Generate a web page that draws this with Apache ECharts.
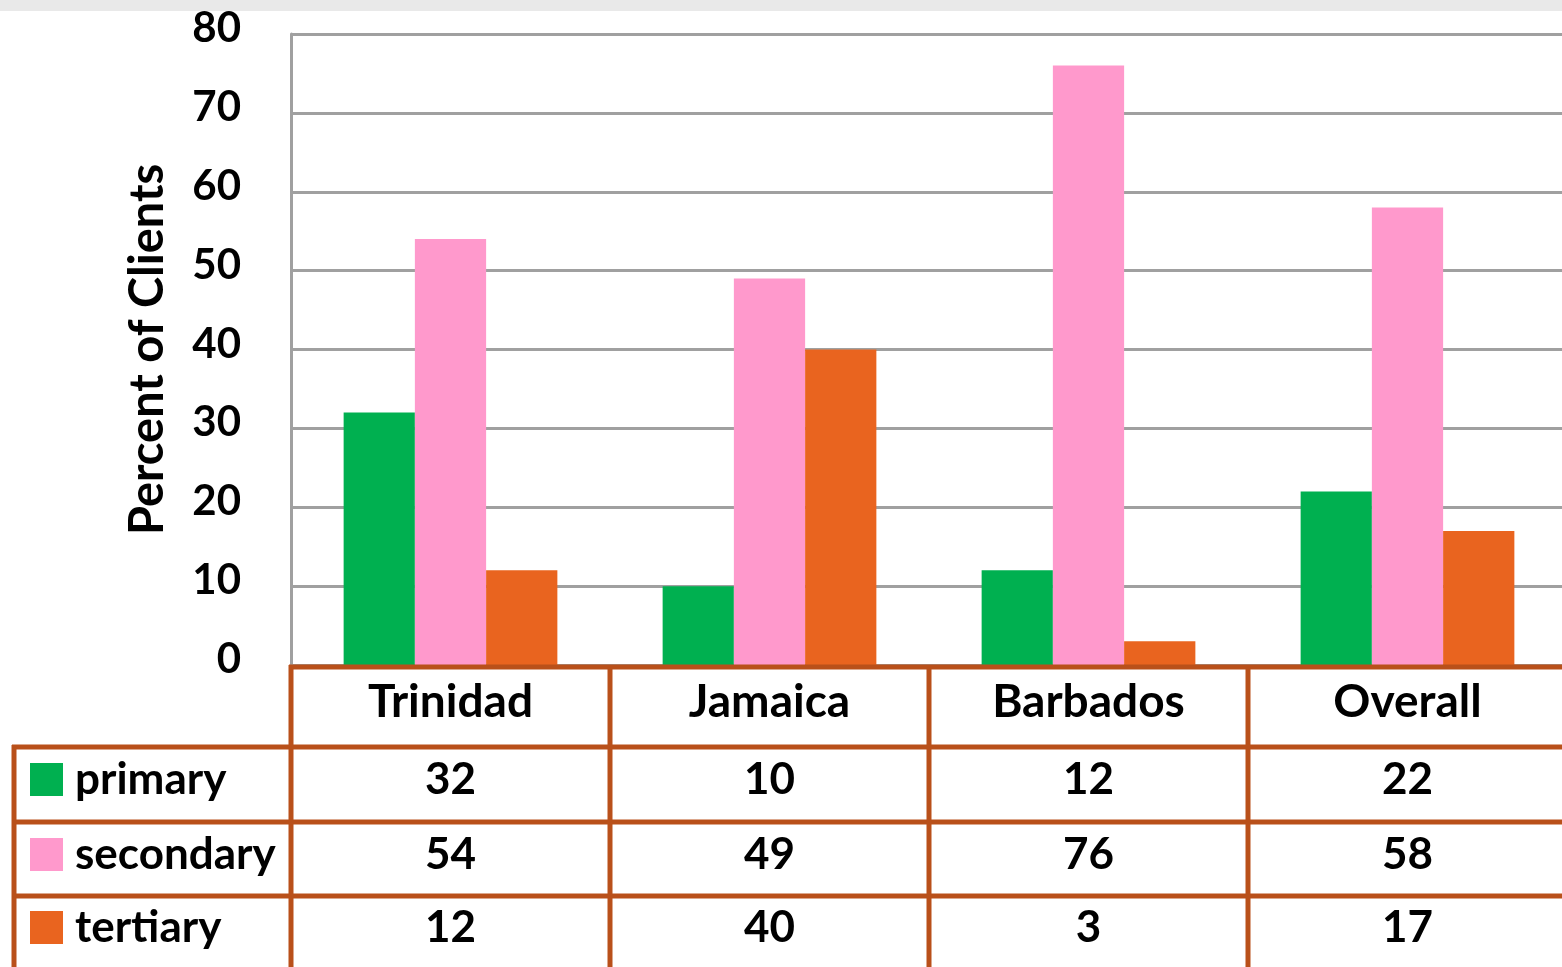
<!DOCTYPE html>
<html>
<head>
<meta charset="utf-8">
<script src="https://cdn.jsdelivr.net/npm/echarts@6/dist/echarts.min.js"></script>
<style>
  html, body { margin: 0; padding: 0; background: #fff; }
  #chart { width: 1562px; height: 967px; }
</style>
</head>
<body>
<div id="chart"></div>
<script>
var categories = ['Trinidad', 'Jamaica', 'Barbados', 'Overall'];
var seriesNames = ['primary', 'secondary', 'tertiary'];
var primary = [32, 10, 12, 22];
var secondary = [54, 49, 76, 58];
var tertiary = [12, 40, 3, 17];

var colors = ['#00b050', '#ff99cc', '#e9641f'];
var border = '#b9501a';
var font = 'Lato';

var chart = echarts.init(document.getElementById('chart'));

function barSeries(name, data, color) {
  return {
    name: name,
    type: 'bar',
    data: data,
    barGap: '0%',
    barCategoryGap: '33%',
    itemStyle: { color: color }
  };
}

var option = {
  animation: false,
  textStyle: { fontFamily: font },
  grid: { left: 291, right: -5, top: 34, bottom: 302, outerBoundsMode: 'none' },
  xAxis: {
    type: 'category',
    data: categories,
    axisLine: { show: false },
    axisTick: { show: false },
    axisLabel: { fontSize: 46, fontWeight: 'bold', color: '#000', margin: 14 }
  },
  yAxis: {
    type: 'value',
    min: 0,
    max: 80,
    interval: 10,
    name: 'Percent of Clients',
    nameLocation: 'middle',
    nameGap: 120,
    nameTextStyle: { fontSize: 47, fontWeight: 'bold', color: '#000' },
    axisLine: { show: true, lineStyle: { color: '#a0a0a0', width: 3 } },
    axisTick: { show: false },
    axisLabel: {
      margin: 50,
      formatter: '{v|{value}}',
      rich: { v: { fontSize: 42, fontWeight: 'bold', color: '#000', fontFamily: font, padding: [0, 0, 11, 0] } }
    },
    splitLine: { lineStyle: { color: '#a0a0a0', width: 3 } }
  },
  series: [
    barSeries(seriesNames[0], primary, colors[0]),
    barSeries(seriesNames[1], secondary, colors[1]),
    barSeries(seriesNames[2], tertiary, colors[2])
  ]
};
chart.setOption(option);

// data table under the chart
var rows = [primary, secondary, tertiary];
var rowCenter = [780, 855, 928];
var rowLines = [747, 822, 896];
var cx = categories.map(function(c) {
  return chart.convertToPixel({ xAxisIndex: 0 }, c);
});
var band = cx[1] - cx[0];
var g = [];

g.push({ type: 'rect', shape: { x: 0, y: 0, width: 1562, height: 11 }, style: { fill: '#e9e9e9' } });

function hline(x1, x2, y) {
  g.push({ type: 'line', shape: { x1: x1, y1: y, x2: x2, y2: y }, style: { stroke: border, lineWidth: 5 }, z: 10 });
}
function vline(x, y1, y2) {
  g.push({ type: 'line', shape: { x1: x, y1: y1, x2: x, y2: y2 }, style: { stroke: border, lineWidth: 5 }, z: 10 });
}

hline(cx[0] - band / 2 - 2, 1562, 667);
rowLines.forEach(function(y) { hline(12, 1562, y); });
cx.forEach(function(x) { vline(x - band / 2, 665, 967); });
vline(14, 745, 967);

rows.forEach(function(vals, r) {
  g.push({ type: 'rect', shape: { x: 30, y: rowCenter[r] - 17, width: 33, height: 33 }, style: { fill: colors[r] } });
  g.push({ type: 'text', x: 75, y: rowCenter[r], style: { text: seriesNames[r], font: 'bold 44px ' + font, fill: '#000', verticalAlign: 'middle' } });
  vals.forEach(function(v, i) {
    g.push({ type: 'text', x: cx[i], y: rowCenter[r], style: { text: String(v), font: 'bold 44px ' + font, fill: '#000', align: 'center', verticalAlign: 'middle' } });
  });
});

chart.setOption({ graphic: g });
</script>
</body>
</html>
